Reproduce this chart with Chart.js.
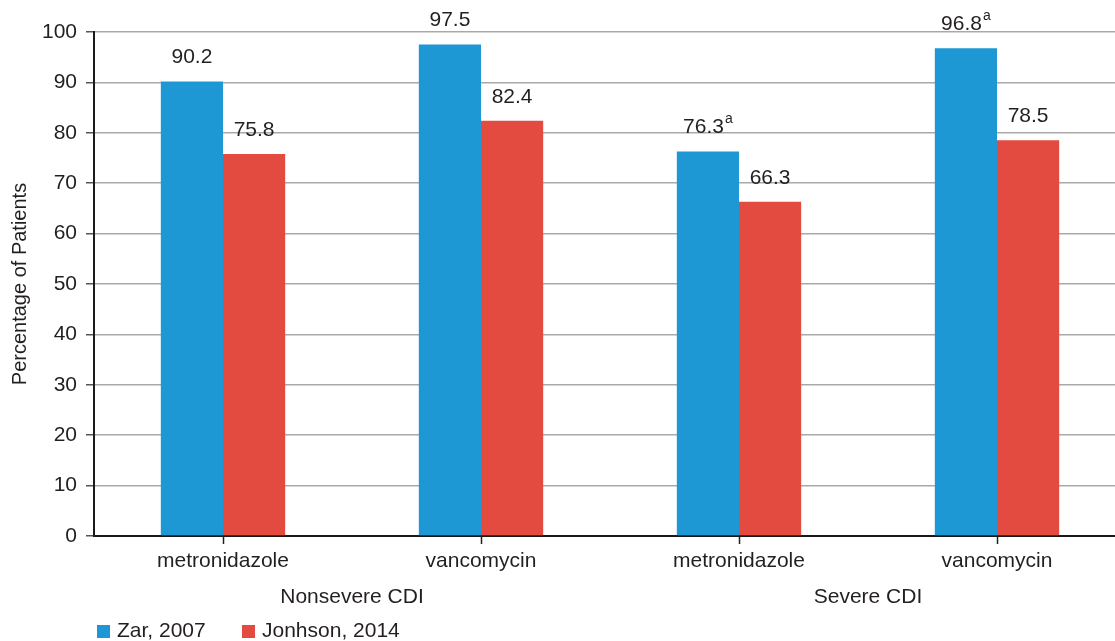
<!DOCTYPE html>
<html>
<head>
<meta charset="utf-8">
<script src="https://cdn.jsdelivr.net/npm/chart.js@4.4.1/dist/chart.umd.min.js"></script>
<style>
    html, body { margin: 0; padding: 0; background: #fff; overflow: hidden; }
    #wrap { width: 1126px; height: 641px; }
</style>
</head>
<body>
<div id="wrap"><canvas id="chart" width="1126" height="641"></canvas></div>
<script>
const kategorien = ["metronidazole", "vancomycin", "metronidazole", "vancomycin"];
const gruppen = ["Nonsevere CDI", "Severe CDI"];
const zarWerte = [90.2, 97.5, 76.3, 96.8];
const zarFussnoten = ["", "", "a", "a"];
const johnsonWerte = [75.8, 82.4, 66.3, 78.5];
const johnsonFussnoten = ["", "", "", ""];
const yTicks = [0, 10, 20, 30, 40, 50, 60, 70, 80, 90, 100];

const schrift = "'Liberation Sans', Arial, Helvetica, sans-serif";
const textFarbe = "#231f20";
const blau = "#1e98d5";
const rot = "#e44b40";

// Werte über den Balken, mit hochgestelltem "a"
const wertLabels = {
    id: "wertLabels",
    afterDatasetsDraw(chart) {
        const ctx = chart.ctx;
        ctx.save();
        ctx.fillStyle = textFarbe;
        ctx.textBaseline = "middle";
        chart.data.datasets.forEach((ds, i) => {
            const meta = chart.getDatasetMeta(i);
            meta.data.forEach((bar, j) => {
                const text = ds.data[j].toFixed(1);
                const note = ds.fussnoten[j];
                ctx.font = "21px " + schrift;
                const w1 = ctx.measureText(text).width;
                ctx.font = "14px " + schrift;
                const w2 = note ? ctx.measureText(note).width + 1 : 0;
                const start = bar.x - (w1 + w2) / 2;
                const y = bar.y - 24;
                ctx.textAlign = "left";
                ctx.font = "21px " + schrift;
                ctx.fillText(text, start, y);
                if (note) {
                    ctx.font = "14px " + schrift;
                    ctx.fillText(note, start + w1 + 1, y - 8);
                }
            });
        });
        ctx.restore();
    }
};

// Legende unten links
const legende = {
    id: "legende",
    afterDraw(chart) {
        const ctx = chart.ctx;
        ctx.save();
        ctx.font = "21px " + schrift;
        ctx.textBaseline = "middle";
        ctx.textAlign = "left";
        const posX = [97, 242];
        chart.data.datasets.forEach((ds, i) => {
            ctx.fillStyle = ds.backgroundColor;
            ctx.fillRect(posX[i], 625, 13, 13);
            ctx.fillStyle = textFarbe;
            ctx.fillText(ds.label, posX[i] + 20, 631);
        });
        ctx.restore();
    }
};

const ctx = document.getElementById("chart").getContext("2d");
const chart = new Chart(ctx, {
    type: "bar",
    data: {
        labels: kategorien,
        datasets: [
            {
                label: "Zar, 2007",
                data: zarWerte,
                fussnoten: zarFussnoten,
                backgroundColor: blau,
                borderWidth: 0,
                categoryPercentage: 0.482,
                barPercentage: 1
            },
            {
                label: "Jonhson, 2014",
                data: johnsonWerte,
                fussnoten: johnsonFussnoten,
                backgroundColor: rot,
                borderWidth: 0,
                categoryPercentage: 0.482,
                barPercentage: 1
            }
        ]
    },
    options: {
        responsive: false,
        animation: false,
        layout: { padding: { left: 0, right: 0, top: 32, bottom: 30 } },
        plugins: {
            legend: { display: false },
            tooltip: { enabled: false }
        },
        scales: {
            x: {
                position: "bottom",
                offset: true,
                grid: {
                    offset: false,
                    drawOnChartArea: false,
                    drawTicks: true,
                    tickLength: 8,
                    tickColor: textFarbe,
                    tickWidth: 1.5
                },
                border: { color: "#1a1a1a", width: 2 },
                ticks: {
                    color: textFarbe,
                    font: { family: schrift, size: 21 },
                    padding: 5,
                    maxRotation: 0
                },
                afterFit: s => { s.height = 40; }
            },
            gruppe: {
                type: "category",
                position: "bottom",
                labels: gruppen,
                offset: true,
                grid: { display: false, drawTicks: false },
                border: { display: false },
                ticks: {
                    color: textFarbe,
                    font: { family: schrift, size: 21 },
                    padding: 9,
                    maxRotation: 0
                },
                afterFit: s => { s.height = 35; }
            },
            y: {
                min: 0,
                max: 100,
                afterBuildTicks: s => { s.ticks = yTicks.map(v => ({ value: v })); },
                grid: {
                    color: "#a9a9a9",
                    lineWidth: 1.5,
                    tickLength: 8,
                    tickColor: "#555"
                },
                border: { color: "#1a1a1a", width: 2 },
                ticks: {
                    color: textFarbe,
                    font: { family: schrift, size: 21 },
                    padding: 9
                },
                title: {
                    display: true,
                    text: "Percentage of Patients",
                    color: textFarbe,
                    font: { family: schrift, size: 20 },
                    padding: { top: 8, bottom: 0 }
                },
                afterFit: s => { s.width = 94; }
            }
        }
    },
    plugins: [wertLabels, legende]
});
</script>
</body>
</html>
